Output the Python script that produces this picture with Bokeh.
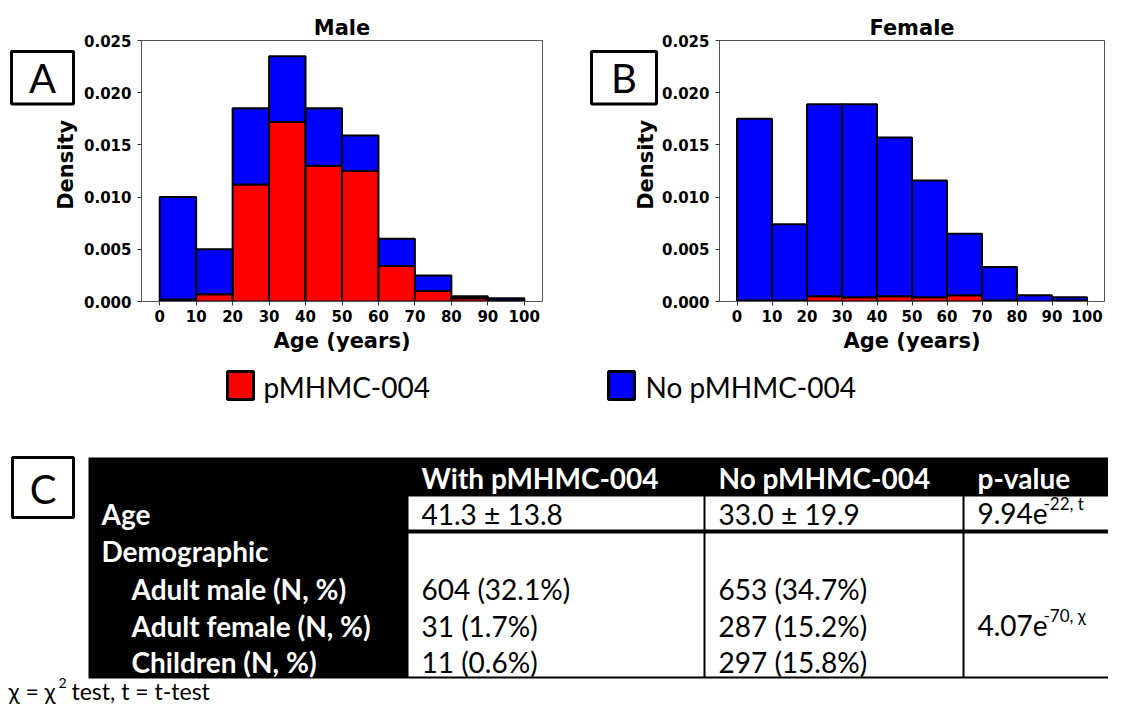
from bokeh.plotting import figure
from bokeh.models import Range1d, FixedTicker, NumeralTickFormatter, ColumnDataSource
from bokeh.layouts import column, row
from bokeh.embed import file_html
from bokeh.resources import INLINE
from bokeh.core.properties import value

# ---------------- data ----------------
age_edges = [0, 10, 20, 30, 40, 50, 60, 70, 80, 90, 100]
# stacked density segments (red = pMHMC-004, blue = No pMHMC-004 on top)
male_pmhmc = [0.0002, 0.0007, 0.0112, 0.0172, 0.0130, 0.0125, 0.0034, 0.0010, 0.0003, 0.0001]
male_no = [0.0098, 0.0043, 0.0073, 0.0063, 0.0055, 0.0034, 0.0026, 0.0015, 0.0002, 0.0002]
female_pmhmc = [0.0001, 0.0001, 0.0005, 0.0004, 0.0005, 0.0004, 0.0006, 0.0001, 0.0000, 0.0001]
female_no = [0.0174, 0.0073, 0.0184, 0.0185, 0.0152, 0.0112, 0.0059, 0.0032, 0.0006, 0.0003]
y_ticks = [0.0, 0.005, 0.010, 0.015, 0.020, 0.025]
x_ticks = age_edges

series_names = ["pMHMC-004", "No pMHMC-004"]
series_colors = ["red", "blue"]

col_headers = ["With pMHMC-004", "No pMHMC-004", "p-value"]
row_labels = ["Age", "Demographic"]
sub_labels = ["Adult male (N, %)", "Adult female (N, %)", "Children (N, %)"]
age_values = ["41.3 \u00b1 13.8", "33.0 \u00b1 19.9"]
with_counts = ["604 (32.1%)", "31 (1.7%)", "11 (0.6%)"]
no_counts = ["653 (34.7%)", "287 (15.2%)", "297 (15.8%)"]
p_age = ["9.94e", "-22, t"]
p_demo = ["4.07e", "-70, \u03c7"]
footnote = ["\u03c7 = \u03c7", "2", "test, t = t-test"]

AX_FONT = "DejaVu Sans"
TXT_FONT = "Lato"
TOP_H = 358


def strip_fig(width, letter, box_l, box_r, dens_x):
    """Left strip: panel letter box and the rotated y-axis title (pixel coordinates)."""
    s = figure(width=width, height=TOP_H, x_range=Range1d(0, width), y_range=Range1d(TOP_H, 0),
               output_backend="svg", toolbar_location=None, x_axis_type=None, y_axis_type=None,
               min_border=0)
    s.xgrid.visible = False
    s.ygrid.visible = False
    s.outline_line_color = None
    s.quad(left=[box_l], right=[box_r], top=[15], bottom=[87], fill_color="white",
           line_color="black", line_width=3)
    s.text(x=[(box_l + box_r) / 2], y=[52], text=[letter], text_font=value(TXT_FONT),
           text_font_size=value("40px"), text_align="center", text_baseline="middle",
           text_color="black")
    s.text(x=[dens_x], y=[170.5], text=["Density"], angle=90, angle_units="deg",
           text_font=value(AX_FONT), text_font_size=value("21px"), text_font_style="bold",
           text_align="center", text_baseline="middle", text_color="black")
    return s


def hist_fig(title, red, blue, width, bl, br):
    centers = [(a + b) / 2 for a, b in zip(age_edges[:-1], age_edges[1:])]
    src = ColumnDataSource(dict(x=centers, red=red, blue=blue))
    p = figure(width=width, height=TOP_H, x_range=Range1d(-5, 105), y_range=Range1d(0, 0.025),
               output_backend="svg", toolbar_location=None, title=title,
               min_border_left=bl, min_border_right=br, min_border_top=40, min_border_bottom=57)
    p.vbar_stack(["red", "blue"], x="x", width=10, source=src, fill_color=series_colors,
                 line_color="black", line_width=2)
    p.xgrid.visible = False
    p.ygrid.visible = False
    p.outline_line_color = "#555555"
    p.outline_line_width = 1
    p.xaxis.ticker = FixedTicker(ticks=x_ticks)
    p.yaxis.ticker = FixedTicker(ticks=y_ticks)
    p.yaxis.formatter = NumeralTickFormatter(format="0.000")
    for ax in (p.xaxis, p.yaxis):
        ax.major_label_text_font = AX_FONT
        ax.major_label_text_font_size = "15px"
        ax.major_label_text_font_style = "bold"
        ax.major_label_text_color = "black"
        ax.axis_label_text_font = AX_FONT
        ax.axis_label_text_font_size = "21px"
        ax.axis_label_text_font_style = "bold"
        ax.axis_label_text_color = "black"
        ax.minor_tick_line_color = None
        ax.major_tick_out = 4
        ax.major_tick_in = 0
        ax.major_tick_line_color = "#333333"
        ax.axis_line_color = "#555555"
    p.xaxis.axis_label = "Age (years)"
    p.xaxis.major_label_standoff = 4
    p.xaxis.axis_label_standoff = 4
    p.yaxis.major_label_standoff = 6
    p.title.align = "center"
    p.title.text_font = AX_FONT
    p.title.text_font_size = "21px"
    p.title.text_font_style = "bold"
    p.title.text_color = "black"
    p.title.standoff = 2
    return p


sA = strip_fig(80, "A", 11, 73, 65)
pA = hist_fig("Male", male_pmhmc, male_no, 503, 61, 41)
sB = strip_fig(76, "B", 8, 73, 62)
pB = hist_fig("Female", female_pmhmc, female_no, 449, 59, 4)

# ---------------- legend + table panel (pixel coordinate system) ----------------
pC = figure(width=1108, height=348, x_range=Range1d(0, 1108), y_range=Range1d(706, 358),
            output_backend="svg", toolbar_location=None, x_axis_type=None, y_axis_type=None,
            min_border=0)
pC.xgrid.visible = False
pC.ygrid.visible = False
pC.outline_line_color = None

# legend
leg_sq_left = [227, 608]
leg_text_x = [263, 645]
pC.quad(left=leg_sq_left, right=[x + 26 for x in leg_sq_left], top=371, bottom=399,
        fill_color=series_colors, line_color="black", line_width=3)
pC.text(x=leg_text_x, y=[386, 386], text=series_names, text_font=value(TXT_FONT),
        text_font_size=value("28px"), text_baseline="middle", text_color="black")

# box C
pC.quad(left=[12], right=[73], top=[457], bottom=[517], fill_color="white",
        line_color="black", line_width=3)
pC.text(x=[42.5], y=[488], text=["C"], text_font=value(TXT_FONT), text_font_size=value("40px"),
        text_align="center", text_baseline="middle", text_color="black")

# table background + cells
pC.quad(left=[88], right=[1108], top=[457], bottom=[678], fill_color="black", line_color=None)
cell_l = [408, 705, 964, 408, 705, 964]
cell_r = [703, 962, 1110, 703, 962, 1110]
cell_t = [496, 496, 496, 533, 533, 533]
cell_b = [529, 529, 529, 676, 676, 676]
pC.quad(left=cell_l, right=cell_r, top=cell_t, bottom=cell_b, fill_color="white", line_color=None)

col_x = [421, 718, 977]
TS = value("28px")
pC.text(x=col_x, y=[477] * 3, text=col_headers, text_font=value(TXT_FONT),
        text_font_size=TS, text_font_style="bold", text_color="white",
        text_baseline="middle")
pC.text(x=[101, 101], y=[513, 550], text=row_labels, text_font=value(TXT_FONT),
        text_font_size=TS, text_font_style="bold", text_color="white",
        text_baseline="middle")
row_y = [588, 625, 661]
pC.text(x=[131] * 3, y=row_y, text=sub_labels, text_font=value(TXT_FONT),
        text_font_size=TS, text_font_style="bold", text_color="white",
        text_baseline="middle")
pC.text(x=col_x[:2], y=[513, 513], text=age_values, text_font=value(TXT_FONT),
        text_font_size=TS, text_color="black", text_baseline="middle")
pC.text(x=[col_x[0]] * 3, y=row_y, text=with_counts, text_font=value(TXT_FONT),
        text_font_size=TS, text_color="black", text_baseline="middle")
pC.text(x=[col_x[1]] * 3, y=row_y, text=no_counts, text_font=value(TXT_FONT),
        text_font_size=TS, text_color="black", text_baseline="middle")
pC.text(x=[977, 977], y=[513, 625], text=[p_age[0], p_demo[0]], text_font=value(TXT_FONT),
        text_font_size=TS, text_color="black", text_baseline="middle")
pC.text(x=[1043, 1043], y=[503, 615], text=[p_age[1], p_demo[1]], text_font=value(TXT_FONT),
        text_font_size=value("17px"), text_color="black", text_baseline="middle")

# footnote
pC.text(x=[8, 71], y=[690, 690], text=[footnote[0], footnote[2]], text_font=value(TXT_FONT),
        text_font_size=value("23px"), text_color="black", text_baseline="middle")
pC.text(x=[58], y=[682], text=[footnote[1]], text_font=value(TXT_FONT),
        text_font_size=value("14px"), text_color="black", text_baseline="middle")

layout = column(row(sA, pA, sB, pB, spacing=0), pC, spacing=0)
open("out.html", "w").write(file_html(layout, INLINE))
